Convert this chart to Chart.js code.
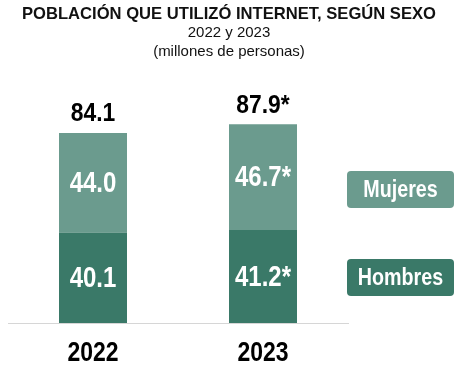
<!DOCTYPE html>
<html>
<head>
<meta charset="utf-8">
<script src="https://cdn.jsdelivr.net/npm/chart.js@4"></script>
<style>
html,body{margin:0;padding:0;background:#fff}
#wrap{width:468px;height:369px}
</style>
</head>
<body>
<div id="wrap"><canvas id="chart"></canvas></div>
<script>
const years = ['2022', '2023'];
const hombres = [40.1, 41.2];
const mujeres = [44.0, 46.7];
const hombresLabels = ['40.1', '41.2*'];
const mujeresLabels = ['44.0', '46.7*'];
const totalLabels = ['84.1', '87.9*'];

const colorH = '#3a7968';
const colorM = '#6b9b8e';
const narrow = "'Liberation Sans Narrow', 'Arial Narrow', sans-serif";

// condensed text: the original uses a very narrow bold face
function squeezeText(c, txt, x, y, size, sx){
    c.save();
    c.translate(x, y);
    c.scale(sx, 1);
    c.font = "bold " + size + "px " + narrow;
    c.fillText(txt, 0, 0);
    c.restore();
}

// numbers inside the bars, totals on top, year labels under the axis
const barLabels = {
    id: 'barLabels',
    afterDatasetsDraw(chart){
        const c = chart.ctx;
        c.save();
        c.textAlign = 'center';
        c.textBaseline = 'middle';
        const texts = [hombresLabels, mujeresLabels];
        chart.data.datasets.forEach((ds, i) => {
            chart.getDatasetMeta(i).data.forEach((bar, j) => {
                c.fillStyle = '#fff';
                squeezeText(c, texts[i][j], bar.x, (bar.y + bar.base) / 2 + 1, 30, 0.8);
                if(i === 1){
                    c.fillStyle = '#000';
                    squeezeText(c, totalLabels[j], bar.x, bar.y - 19, 26, 0.88);
                }
            });
        });
        const xs = chart.scales.x;
        c.fillStyle = '#000';
        xs.ticks.forEach((t, k) => {
            squeezeText(c, xs.getLabelForValue(t.value), xs.getPixelForTick(k), xs.bottom - 16, 28, 0.82);
        });
        c.restore();
    }
};

// the two rounded boxes on the right
const boxLegend = {
    id: 'boxLegend',
    afterDraw(chart){
        const c = chart.ctx;
        const x = chart.chartArea.right - 1, w = 107, h = 37;
        const rows = [{ds: 1, y: 171}, {ds: 0, y: 259}];
        c.save();
        c.textAlign = 'center';
        c.textBaseline = 'middle';
        rows.forEach(r => {
            const ds = chart.data.datasets[r.ds];
            c.fillStyle = ds.backgroundColor;
            c.beginPath();
            c.roundRect(x, r.y, w, h, 4);
            c.fill();
            c.fillStyle = '#fff';
            squeezeText(c, ds.label, x + w / 2, r.y + h / 2 + 1, 24, 0.82);
        });
        c.restore();
    }
};

new Chart(document.getElementById('chart'), {
    type: 'bar',
    data: {
        labels: years,
        datasets: [
            {label: 'Hombres', data: hombres, backgroundColor: colorH},
            {label: 'Mujeres', data: mujeres, backgroundColor: colorM}
        ]
    },
    options: {
        responsive: true,
        maintainAspectRatio: false,
        animation: false,
        events: [],
        categoryPercentage: 1,
        barPercentage: 0.4,
        layout: {padding: {left: 0, right: 10, top: 0, bottom: 0}},
        plugins: {
            legend: {display: false},
            tooltip: {enabled: false},
            title: {
                display: true,
                text: 'POBLACIÓN QUE UTILIZÓ INTERNET, SEGÚN SEXO',
                color: '#111',
                font: {family: narrow, size: 16.6, weight: 'bold', lineHeight: 1.2},
                padding: {top: 4, bottom: 0}
            },
            subtitle: {
                display: true,
                text: ['2022 y 2023', '(millones de personas)'],
                color: '#111',
                font: {family: "'Liberation Sans', Arial, sans-serif", size: 15, lineHeight: 1.25},
                padding: {top: 0, bottom: 35.6}
            }
        },
        scales: {
            x: {
                stacked: true,
                grid: {display: false, drawTicks: false},
                border: {display: true, color: '#d6d6d6', width: 1},
                ticks: {color: 'rgba(0,0,0,0)', padding: 0},
                afterFit(s){ s.height = 46; }
            },
            y: {
                stacked: true,
                position: 'left',
                min: 0,
                max: 100,
                grid: {display: false},
                border: {display: false},
                ticks: {display: false},
                afterFit(s){ s.width = 8; }
            },
            y2: {
                position: 'right',
                min: 0,
                max: 100,
                grid: {display: false},
                border: {display: false},
                ticks: {display: false},
                afterFit(s){ s.width = 110; }
            }
        }
    },
    plugins: [barLabels, boxLegend]
});
</script>
</body>
</html>
